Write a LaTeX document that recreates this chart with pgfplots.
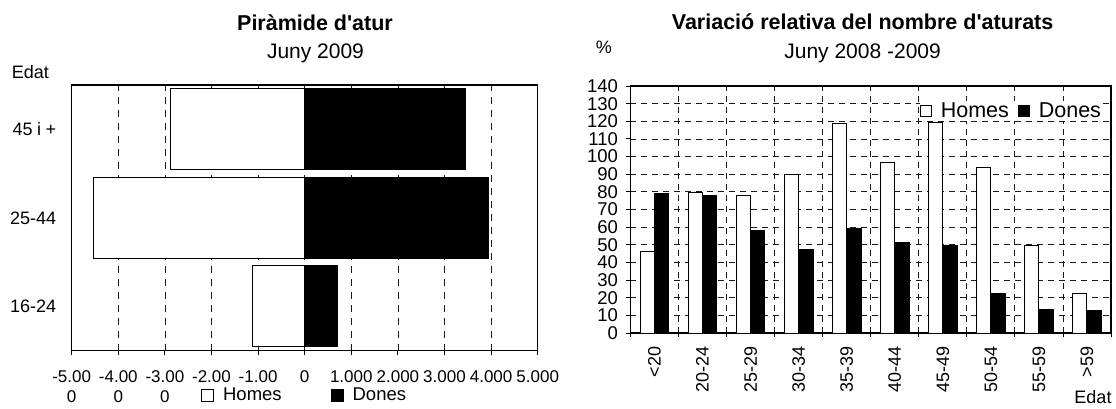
\documentclass[border=0pt]{standalone}
\usepackage{fontspec}
\setmainfont{Liberation Sans}
\usepackage{pgfplots}
\pgfplotsset{compat=1.18}
\definecolor{gridc}{gray}{0.1}
\begin{document}
\begin{tikzpicture}[x=1pt,y=1pt]
\useasboundingbox (0,0) rectangle (1116,408);
% ---------------- left chart ----------------
\begin{axis}[
  at={(71.7pt,57.3pt)}, anchor=south west,
  width=466pt, height=265.7pt, scale only axis,
  xbar, bar width=0.915,
  xmin=-5000, xmax=5000, ymin=-0.5, ymax=2.5,
  xtick={-5000,-4000,...,5000},
  xticklabels={{-5.00\\0},{-4.00\\0},{-3.00\\0},{-2.00},{-1.00},{0},{1.000},{2.000},{3.000},{4.000},{5.000}},
  scaled x ticks=false,
  xticklabel style={align=center, font=\fontsize{17}{20.5}\selectfont, yshift=-12pt},
  ytick={0,1,2}, yticklabels={16-24,25-44,{45\hspace{0.25em}i\hspace{0.25em}+}},
  yticklabel style={font=\fontsize{18}{21}\selectfont, xshift=-8pt},
  ytick style={draw=none},
  xtick pos=left, tick align=outside, major tick length=4pt,
  xtick style={line width=0.9pt, black},
  xmajorgrids, grid style={dash pattern=on 7pt off 6pt, line width=0.8pt, gridc},
  axis line style={line width=1.2pt},
  legend columns=2,
  legend image code/.code={\draw[#1,line width=0.9pt] (0pt,-6pt) rectangle (12pt,6pt);},
  legend style={at={(0.2775,-0.167)}, anchor=west, draw=none, fill=white, inner sep=0pt,
     font=\fontsize{18.5}{22}\selectfont,
     /tikz/every odd column/.append style={column sep=7pt},
     /tikz/every even column/.append style={column sep=47pt}},
]
\addplot[fill=white, draw=black, line width=1pt, bar shift=0] coordinates {(-1112,0) (-4541,1) (-2876,2)};
\addplot[fill=black, draw=black, line width=1pt, bar shift=0] coordinates {(704,0) (3946,1) (3440,2)};
\legend{Homes,Dones}
\end{axis}
\node[anchor=base, font=\bfseries\fontsize{21.5}{25}\selectfont] at (315,377) {Piràmide d\textquotesingle atur};
\node[anchor=base, font=\fontsize{21}{25}\selectfont] at (315.5,349) {Juny 2009};
\node[anchor=base west, inner sep=0pt, font=\fontsize{18}{21}\selectfont] at (11.7,329.7) {Edat};
% ---------------- right chart ----------------
\begin{axis}[
  at={(630.4pt,75pt)}, anchor=south west,
  width=480.6pt, height=247pt, scale only axis,
  ybar, bar width=0.3,
  xmin=-0.5, xmax=9.5, ymin=0, ymax=140,
  xtick={0,...,9},
  xticklabels={{<20},{20-24},{25-29},{30-34},{35-39},{40-44},{45-49},{50-54},{55-59},{>59}},
  major x tick style={draw=none},
  minor xtick={-0.5,0.5,...,9.5},
  xminorgrids, ymajorgrids,
  minor tick length=4pt, major tick length=4pt,
  ytick={0,10,...,140},
  /pgf/number format/assume math mode=true,
  xtick pos=left, ytick pos=left, tick align=outside,
  tick style={line width=0.9pt, black},
  xticklabel style={yshift=-6pt, rotate=90, anchor=east, font=\fontsize{18}{21}\selectfont},
  yticklabel style={font=\fontsize{18.5}{21}\selectfont, xshift=-5pt},
  grid style={dash pattern=on 6pt off 5pt, line width=0.8pt, gridc},
  axis line style={line width=1.2pt},
  legend columns=2,
  legend image code/.code={\draw[#1,line width=0.9pt] (0pt,-5.5pt) rectangle (11pt,5.5pt);},
  legend style={at={(0.602,0.9)}, anchor=west, draw=none, fill=white, inner sep=0pt,
     font=\fontsize{21.5}{25}\selectfont,
     /tikz/every odd column/.append style={column sep=7pt},
     /tikz/every even column/.append style={column sep=7pt}},
]
\addplot[fill=white, draw=black, line width=1pt, bar shift=-0.15] coordinates
 {(0,46) (1,79.6) (2,77.7) (3,90) (4,118.6) (5,96.8) (6,119.4) (7,93.8) (8,49.8) (9,22.5)};
\addplot[fill=black, draw=black, line width=1pt, bar shift=0.15] coordinates
 {(0,79.2) (1,77.9) (2,58.3) (3,47.2) (4,59.5) (5,51.1) (6,49.4) (7,22.5) (8,13.4) (9,12.5)};
\legend{Homes,Dones}
\end{axis}
\node[anchor=base, font=\bfseries\fontsize{21.5}{25}\selectfont] at (862.6,378) {Variació relativa del nombre d\textquotesingle aturats};
\node[anchor=base, font=\fontsize{21}{25}\selectfont] at (862.6,349.7) {Juny 2008 -2009};
\node[anchor=base west, inner sep=0pt, font=\fontsize{18}{21}\selectfont] at (595.7,354) {\%};
\node[anchor=base east, inner sep=0pt, font=\fontsize{18}{21}\selectfont] at (1111.7,4.7) {Edat};
\end{tikzpicture}
\end{document}
